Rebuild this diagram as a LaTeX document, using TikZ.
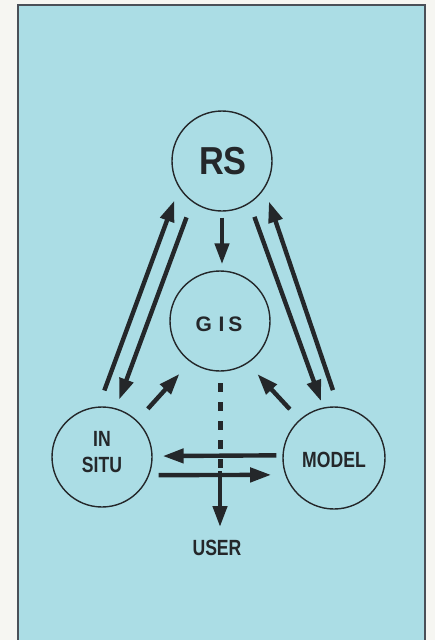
\documentclass[tikz,border=0pt]{standalone}
\usepackage{fontspec}
\setmainfont{Liberation Sans}
\usepackage{graphicx}
\usetikzlibrary{arrows.meta}

\definecolor{panel}{HTML}{ABDDE5}
\definecolor{ink}{HTML}{24272A}
\definecolor{frame}{HTML}{4A5058}
\definecolor{paper}{HTML}{F6F6F2}

% condensed lettering for the labels
\newcommand\squeezed[1]{\scalebox{0.8}[1]{#1}}

\begin{document}
\begin{tikzpicture}[x=1pt,y=-1pt,
  ring/.style={circle,draw=ink,line width=1.4pt,minimum size=100pt,inner sep=0pt},
  lbl/.style={text=ink,font=\bfseries\fontsize{22}{25.4}\selectfont,inner sep=0pt,align=center},
  flow/.style={draw=ink,line width=4.4pt,-{Triangle[length=21pt,width=14pt]}},
  feed/.style={draw=ink,line width=5pt,dash pattern=on 9pt off 10pt}
]
\useasboundingbox (0,0) rectangle (435,640);
\fill[paper] (0,0) rectangle (435,640);
\filldraw[fill=panel,draw=frame,line width=2pt] (18,5) rectangle (425,660);

% the four systems
\node[ring] (rs) at (222,161) {};
\node[ring] (gis) at (220,321) {};
\node[ring] (insitu) at (102,457) {};
\node[ring,minimum size=102pt] (model) at (334,458) {};

\node[lbl,font=\bfseries\fontsize{39}{40}\selectfont] (rslbl) at (223,161) {\scalebox{0.88}[1]{RS}};
\node[lbl,font=\bfseries\fontsize{21}{22}\selectfont] (gislbl) at (219,324) {G\kern6.7pt I\kern3.8pt S};
\node[lbl] (insitulbl) at (102,452) {\squeezed{IN}\\\squeezed{SITU}};
\node[lbl] (modellbl) at (334,460) {\squeezed{MODEL}};
\node[lbl] (user) at (217,548) {\squeezed{USER}};

% exchanges with RS
\draw[flow,shorten <=17pt,shorten >=13.6pt] (insitu.94.5) -- (rs.212.3);
\draw[flow,shorten <=16.4pt,shorten >=9.3pt] (rs.234.4) -- (insitu.74);
\draw[flow,shorten <=14.2pt,shorten >=6.6pt] (rs.-57.3) -- (model.102.3);
\draw[flow,shorten <=17.3pt,shorten >=13.5pt] (model.85) -- (rs.-33.4);

% inputs to GIS
\draw[flow,shorten <=6pt,shorten >=6pt] (rs.south) -- (rs.south |- gis.north);
\draw[flow,shorten <=15.8pt,shorten >=16pt] (insitu.46.8) -- (gis.234.9);
\draw[flow,shorten <=14.1pt,shorten >=14.4pt] (model.132.5) -- (gis.-57);

% output to the user
\coordinate (cross) at (220,471);
\draw[feed,shorten <=11.7pt] (gis.south) -- (cross);
\draw[flow,shorten >=13pt] (cross) -- (cross |- user.north);

% in situ <-> model
\draw[flow,shorten <=6pt,shorten >=10pt] (model.177.8) -- (insitu.1.1);
\draw[flow,shorten <=9.3pt,shorten >=13.9pt] (insitu.-21.1) -- (model.199.5);
\end{tikzpicture}
\end{document}
